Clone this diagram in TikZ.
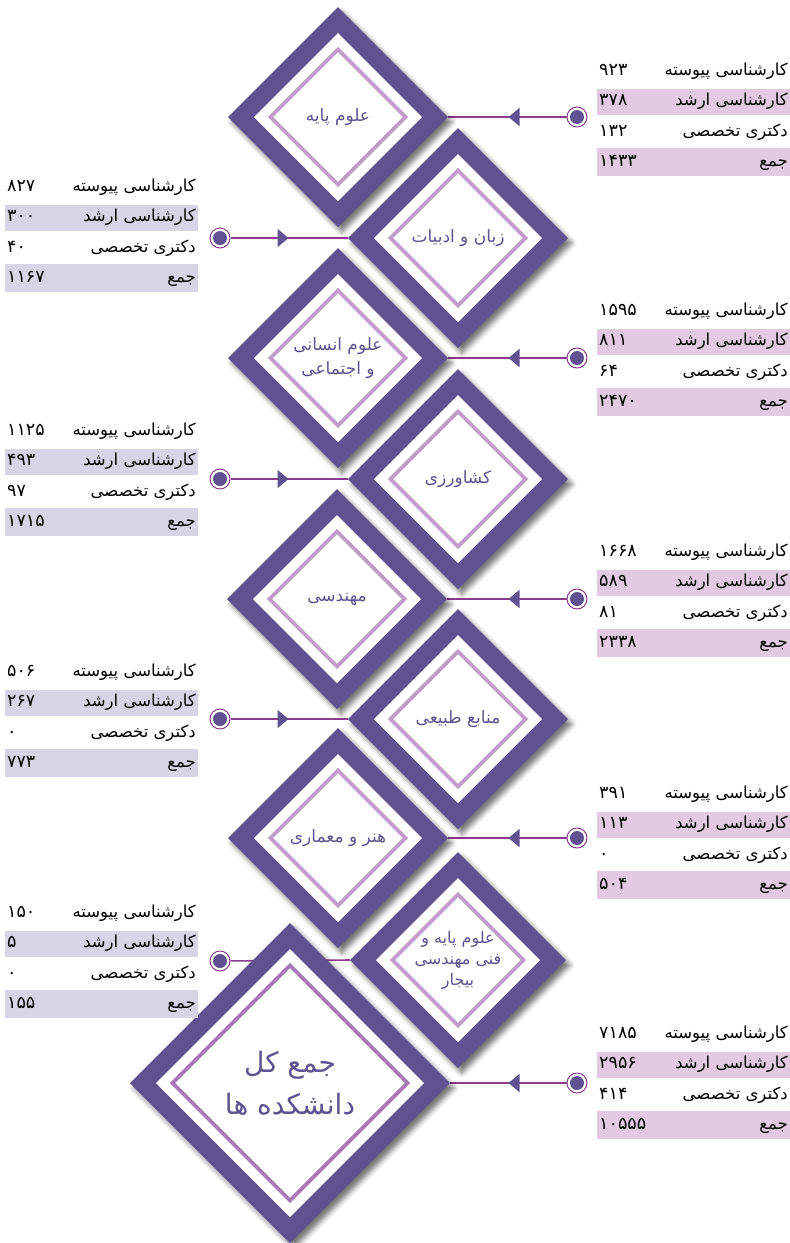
\documentclass[tikz,border=0pt]{standalone}
\usepackage{fontspec}
\newfontfamily\farsi[Script=Arabic]{DejaVu Sans}
\TeXXeTstate=1
\usetikzlibrary{shapes.geometric,shadows.blur,decorations.markings,arrows.meta,backgrounds}
\definecolor{frameviolet}{HTML}{5E5390}
\definecolor{lilac}{HTML}{C29CC9}
\definecolor{orchid}{HTML}{A877B8}
\definecolor{linkplum}{HTML}{8C3B8E}
\definecolor{pinkrow}{HTML}{E1CAE2}
\definecolor{grayrow}{HTML}{D7D5E5}
\def\fa#1{\beginR#1\endR}
\tikzset{
  frame/.style 2 args={diamond, aspect=1, inner sep=0pt, outer sep=0pt,
    minimum size=#1*2pt, fill=frameviolet,
    blur shadow={shadow xshift=4pt, shadow yshift=-5pt, shadow blur radius=5pt, shadow opacity=55},
    text=frameviolet, font=\farsi\fontsize{17}{24}\selectfont, align=center,
    path picture={
      \fill[white] (path picture bounding box.center) +(-#1+26,0) -- +(0,-#1+26) -- +(#1-26,0) -- +(0,#1-26) -- cycle;
      \draw[#2, line width=3.6pt] (path picture bounding box.center) +(-#1+42.5,0) -- +(0,-#1+42.5) -- +(#1-42.5,0) -- +(0,#1-42.5) -- cycle;
    }},
  dot/.style={circle, inner sep=0pt, minimum size=20pt, fill=white, draw=linkplum, line width=1pt,
    path picture={\fill[frameviolet] (path picture bounding box.center) circle (7pt);}},
  link/.style={draw=linkplum, line width=1.6pt, postaction={decorate},
    decoration={markings, mark=at position 58pt with {\arrow[frameviolet]{Triangle[length=11pt,width=18pt]}}}},
  lbl/.style={font=\farsi\fontsize{16.5}{18}\selectfont, anchor=east, inner sep=0pt, text height=11pt, text depth=4pt},
  num/.style={font=\farsi\fontsize{17.5}{18}\selectfont, anchor=west, inner sep=0pt, text height=11pt, text depth=4pt}
}
% #1 name, (#2,#3) left edge and first row, #4 shade, #5-#8 numbers
\def\stats#1(#2,#3)#4#5#6#7#8{%
  \fill[#4] (#2,#3+17) rectangle (#2+193,#3+43);
  \fill[#4] (#2,#3+76) rectangle (#2+193,#3+104);
  \node[lbl] (#1-a) at (#2+191,#3) {\fa{کارشناسی پیوسته}};
  \node[lbl] (#1-b) at (#2+191,#3+30) {\fa{کارشناسی ارشد}};
  \node[lbl] (#1-c) at (#2+191,#3+61) {\fa{دکتری تخصصی}};
  \node[lbl] (#1-d) at (#2+191,#3+91) {\fa{جمع}};
  \node[num] (#1-na) at (#2+2,#3) {#5};
  \node[num] (#1-nb) at (#2+2,#3+30) {#6};
  \node[num] (#1-nc) at (#2+2,#3+61) {#7};
  \node[num] (#1-nd) at (#2+2,#3+91) {#8};
}

\begin{document}
\begin{tikzpicture}[x=1pt,y=-1pt]
			%%%%% START %%%%%
			\useasboundingbox (0,0) rectangle (790,1243);
			
			\node[frame={110}{lilac}] (d1) at (338,117) {\fa{علوم پایه}};
			\node[frame={110}{lilac}] (d2) at (458,238) {\fa{زبان و ادبیات}};
			\node[frame={110}{lilac}] (d3) at (338,358) {\fa{علوم انسانی}\\\fa{و اجتماعی}};
			\node[frame={110}{lilac}] (d4) at (458,479) {\fa{کشاورزی}};
			\node[frame={110}{lilac}] (d5) at (337,599) {\fa{مهندسی}};
			\node[frame={110}{lilac}] (d6) at (458,719) {\fa{منابع طبیعی}};
			\node[frame={110}{lilac}] (d7) at (338,838) {\fa{هنر و معماری}};
			\node[frame={108}{lilac}, font=\farsi\fontsize{16}{21}\selectfont] (d8) at (458,960) {\fa{علوم پایه و}\\\fa{فنی مهندسی}\\\fa{بیجار}};
			\node[frame={160}{orchid}, font=\farsi\fontsize{28}{42}\selectfont] (dt) at (290,1083) {\fa{جمع کل}\\\fa{دانشکده ها}};
			
			\node[dot] (c1) at (577,117) {};
			\node[dot] (c2) at (220,238) {};
			\node[dot] (c3) at (577,358) {};
			\node[dot] (c4) at (220,479) {};
			\node[dot] (c5) at (577,599) {};
			\node[dot] (c6) at (220,719) {};
			\node[dot] (c7) at (577,838) {};
			\node[dot] (c8) at (220,961) {};
			\node[dot] (c9) at (577,1083) {};
			
			\begin{scope}[on background layer]
			\draw[link] (c1) -- (d1.east);
			\draw[link] (c2) -- (d2.west);
			\draw[link] (c3) -- (d3.east);
			\draw[link] (c4) -- (d4.west);
			\draw[link] (c5) -- (d5.east);
			\draw[link] (c6) -- (d6.west);
			\draw[link] (c7) -- (d7.east);
			\draw[link] (c8) -- (d8.west);
			\draw[link] (c9) -- (dt.east);
			\end{scope}
			
			\stats{t1}(597,72){pinkrow}{۹۲۳}{۳۷۸}{۱۳۲}{۱۴۳۳}
			\stats{t2}(5,188){grayrow}{۸۲۷}{۳۰۰}{۴۰}{۱۱۶۷}
			\stats{t3}(597,312){pinkrow}{۱۵۹۵}{۸۱۱}{۶۴}{۲۴۷۰}
			\stats{t4}(5,432){grayrow}{۱۱۲۵}{۴۹۳}{۹۷}{۱۷۱۵}
			\stats{t5}(597,553){pinkrow}{۱۶۶۸}{۵۸۹}{۸۱}{۲۳۳۸}
			\stats{t6}(5,673){grayrow}{۵۰۶}{۲۶۷}{۰}{۷۷۳}
			\stats{t7}(597,795){pinkrow}{۳۹۱}{۱۱۳}{۰}{۵۰۴}
			\stats{t8}(5,914){grayrow}{۱۵۰}{۵}{۰}{۱۵۵}
			\stats{t9}(597,1035){pinkrow}{۷۱۸۵}{۲۹۵۶}{۴۱۴}{۱۰۵۵۵}
			\node[text=gray!30, font=\tiny, inner sep=0pt] (mark) at (657,1120) {*};
			
			%%%%% END %%%%%
\end{tikzpicture}
\end{document}
